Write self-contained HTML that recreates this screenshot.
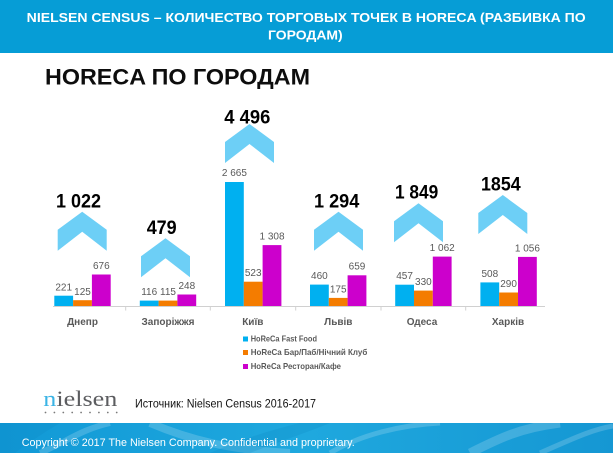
<!DOCTYPE html>
<html>
<head>
<meta charset="utf-8">
<style>
  html,body{margin:0;padding:0;background:#fff;}
  svg{display:block;}
</style>
</head>
<body>
<svg width="613" height="453" viewBox="0 0 613 453" xmlns="http://www.w3.org/2000/svg" font-family="'Liberation Sans', 'Noto Sans CJK SC', sans-serif">
  <defs>
    <linearGradient id="fg" x1="0" y1="0" x2="1" y2="0">
      <stop offset="0" stop-color="#1199d6"/>
      <stop offset="0.5" stop-color="#1fa8de"/>
      <stop offset="1" stop-color="#1597d3"/>
    </linearGradient>
  </defs>
  <rect width="613" height="453" fill="#fff"/>

  <!-- Header -->
  <rect x="0" y="0" width="613" height="53" fill="#069dd6"/>
  <text x="26.7" y="22" font-size="13" font-weight="bold" fill="#fff" textLength="559" lengthAdjust="spacingAndGlyphs">NIELSEN CENSUS – КОЛИЧЕСТВО ТОРГОВЫХ ТОЧЕК В HORECA (РАЗБИВКА ПО</text>
  <text x="268" y="39.5" font-size="13" font-weight="bold" fill="#fff" textLength="74.7" lengthAdjust="spacingAndGlyphs">ГОРОДАМ)</text>

  <!-- Title -->
  <text x="45" y="84.3" font-size="22" font-weight="bold" fill="#0d0d0d" textLength="265" lengthAdjust="spacingAndGlyphs">HORECA ПО ГОРОДАМ</text>

  <!-- Axis -->
  <line x1="53" y1="306.5" x2="545" y2="306.5" stroke="#d0d0d0" stroke-width="1"/>
  <g stroke="#d0d0d0" stroke-width="1">
    <line x1="125.7" y1="306.5" x2="125.7" y2="310.5"/>
    <line x1="210.3" y1="306.5" x2="210.3" y2="310.5"/>
    <line x1="295.7" y1="306.5" x2="295.7" y2="310.5"/>
    <line x1="381" y1="306.5" x2="381" y2="310.5"/>
    <line x1="465.7" y1="306.5" x2="465.7" y2="310.5"/>
  </g>

  <!-- Bars: scale 0.04653 px/unit, baseline 306 -->
  <!-- Днепр -->
  <rect x="54.3" y="295.7" width="18.8" height="10.3" fill="#00b0f0"/>
  <rect x="73.1" y="300.2" width="18.8" height="5.8" fill="#f47c00"/>
  <rect x="91.9" y="274.5" width="18.8" height="31.5" fill="#cc00cc"/>
  <!-- Запоріжжя -->
  <rect x="139.8" y="300.6" width="18.8" height="5.4" fill="#00b0f0"/>
  <rect x="158.6" y="300.6" width="18.8" height="5.4" fill="#f47c00"/>
  <rect x="177.4" y="294.5" width="18.8" height="11.5" fill="#cc00cc"/>
  <!-- Київ -->
  <rect x="225" y="182" width="18.8" height="124" fill="#00b0f0"/>
  <rect x="243.8" y="281.7" width="18.8" height="24.3" fill="#f47c00"/>
  <rect x="262.6" y="245.1" width="18.8" height="60.9" fill="#cc00cc"/>
  <!-- Львів -->
  <rect x="310" y="284.6" width="18.8" height="21.4" fill="#00b0f0"/>
  <rect x="328.8" y="297.9" width="18.8" height="8.1" fill="#f47c00"/>
  <rect x="347.6" y="275.3" width="18.8" height="30.7" fill="#cc00cc"/>
  <!-- Одеса -->
  <rect x="395.2" y="284.7" width="18.8" height="21.3" fill="#00b0f0"/>
  <rect x="414" y="290.6" width="18.8" height="15.4" fill="#f47c00"/>
  <rect x="432.8" y="256.6" width="18.8" height="49.4" fill="#cc00cc"/>
  <!-- Харків -->
  <rect x="480.4" y="282.4" width="18.8" height="23.6" fill="#00b0f0"/>
  <rect x="499.2" y="292.5" width="18.8" height="13.5" fill="#f47c00"/>
  <rect x="518" y="256.9" width="18.8" height="49.1" fill="#cc00cc"/>

  <!-- Value labels -->
  <g font-size="10" fill="#595959" text-anchor="middle">
    <text x="63.7" y="290.5">221</text>
    <text x="82.5" y="295">125</text>
    <text x="101.3" y="269">676</text>

    <text x="149.2" y="295">116</text>
    <text x="168" y="295">115</text>
    <text x="186.8" y="289">248</text>

    <text x="234.4" y="176">2 665</text>
    <text x="253.2" y="276">523</text>
    <text x="272" y="239.5">1 308</text>

    <text x="319.4" y="279">460</text>
    <text x="338.2" y="292.3">175</text>
    <text x="357" y="269.7">659</text>

    <text x="404.6" y="279.1">457</text>
    <text x="423.4" y="285">330</text>
    <text x="442.2" y="251">1 062</text>

    <text x="489.8" y="276.8">508</text>
    <text x="508.6" y="286.9">290</text>
    <text x="527.4" y="251.3">1 056</text>
  </g>

  <!-- Chevrons -->
  <g fill="#6dcff6">
    <polygon transform="translate(57.7,211.7)" points="0,18 24.5,0 49,18 49,39 24.5,20 0,39"/>
    <polygon transform="translate(141,238.3)" points="0,18 24.5,0 49,18 49,39 24.5,20 0,39"/>
    <polygon transform="translate(225,124)" points="0,18 24.5,0 49,18 49,39 24.5,20 0,39"/>
    <polygon transform="translate(314,211.7)" points="0,18 24.5,0 49,18 49,39 24.5,20 0,39"/>
    <polygon transform="translate(394,203.3)" points="0,18 24.5,0 49,18 49,39 24.5,20 0,39"/>
    <polygon transform="translate(478.3,195)" points="0,18 24.5,0 49,18 49,39 24.5,20 0,39"/>
  </g>

  <!-- Totals -->
  <g font-size="19" font-weight="bold" fill="#000">
    <text x="56" y="207.3" textLength="45" lengthAdjust="spacingAndGlyphs">1 022</text>
    <text x="146.7" y="234" textLength="30" lengthAdjust="spacingAndGlyphs">479</text>
    <text x="224.3" y="123.3" textLength="46" lengthAdjust="spacingAndGlyphs">4 496</text>
    <text x="314" y="207.3" textLength="45.3" lengthAdjust="spacingAndGlyphs">1 294</text>
    <text x="395" y="198.7" textLength="43.3" lengthAdjust="spacingAndGlyphs">1 849</text>
    <text x="481" y="190.7" textLength="39.7" lengthAdjust="spacingAndGlyphs">1854</text>
  </g>

  <!-- Category labels -->
  <g font-size="10" font-weight="bold" fill="#595959" text-anchor="middle">
    <text x="82.5" y="325">Днепр</text>
    <text x="168" y="325">Запоріжжя</text>
    <text x="252.8" y="325">Київ</text>
    <text x="338.3" y="325">Львів</text>
    <text x="422" y="325">Одеса</text>
    <text x="508" y="325">Харків</text>
  </g>

  <!-- Legend -->
  <rect x="243" y="336.5" width="5" height="5" fill="#00b0f0"/>
  <rect x="243" y="350" width="5" height="5" fill="#f47c00"/>
  <rect x="243" y="364" width="5" height="5" fill="#cc00cc"/>
  <g font-size="8.5" fill="#595959" font-weight="bold">
    <text x="250.7" y="341.7" textLength="66.3" lengthAdjust="spacingAndGlyphs">HoReCa Fast Food</text>
    <text x="250.7" y="355.2" textLength="116.6" lengthAdjust="spacingAndGlyphs">HoReCa Бар/Паб/Нічний Клуб</text>
    <text x="250.7" y="369.2" textLength="90.3" lengthAdjust="spacingAndGlyphs">HoReCa Ресторан/Кафе</text>
  </g>

  <!-- Nielsen logo -->
  <text x="43.3" y="406" font-family="'Liberation Serif', serif" font-size="22" fill="#5c5d60" textLength="74" lengthAdjust="spacingAndGlyphs"><tspan fill="#3bb4e5">n</tspan>ielsen</text>
  <g fill="#7a7a7a">
    <circle cx="45.5" cy="412.5" r="0.9"/>
    <circle cx="54.4" cy="412.5" r="0.9"/>
    <circle cx="63.3" cy="412.5" r="0.9"/>
    <circle cx="72.2" cy="412.5" r="0.9"/>
    <circle cx="81.1" cy="412.5" r="0.9"/>
    <circle cx="90" cy="412.5" r="0.9"/>
    <circle cx="98.9" cy="412.5" r="0.9"/>
    <circle cx="107.8" cy="412.5" r="0.9"/>
    <circle cx="116.7" cy="412.5" r="0.9"/>
  </g>
  <text x="135" y="407.7" font-size="11.5" fill="#111" textLength="181" lengthAdjust="spacingAndGlyphs">Источник: Nielsen Census 2016-2017</text>

  <!-- Footer -->
  <rect x="0" y="423" width="613" height="30" fill="url(#fg)"/>
  <g fill="none" stroke="#ffffff" stroke-opacity="0.18">
    <path d="M40,453 C70,440 80,430 110,423" stroke-width="6"/>
    <path d="M150,423 C190,440 230,450 290,453" stroke-width="8"/>
    <path d="M330,453 C360,435 400,425 440,423" stroke-width="5"/>
    <path d="M470,453 C500,438 520,428 560,423" stroke-width="9"/>
    <path d="M540,453 C570,440 590,430 613,426" stroke-width="5"/>
  </g>
  <g fill="#0b86c4" fill-opacity="0.25">
    <path d="M0,423 L60,423 C40,435 25,445 15,453 L0,453 Z"/>
    <path d="M210,453 C240,440 270,430 300,423 L330,423 C300,435 270,445 250,453 Z"/>
  </g>
  <text x="21.7" y="446" font-size="11" fill="#fff" textLength="333" lengthAdjust="spacingAndGlyphs">Copyright © 2017 The Nielsen Company.  Confidential and proprietary.</text>
</svg>
</body>
</html>
